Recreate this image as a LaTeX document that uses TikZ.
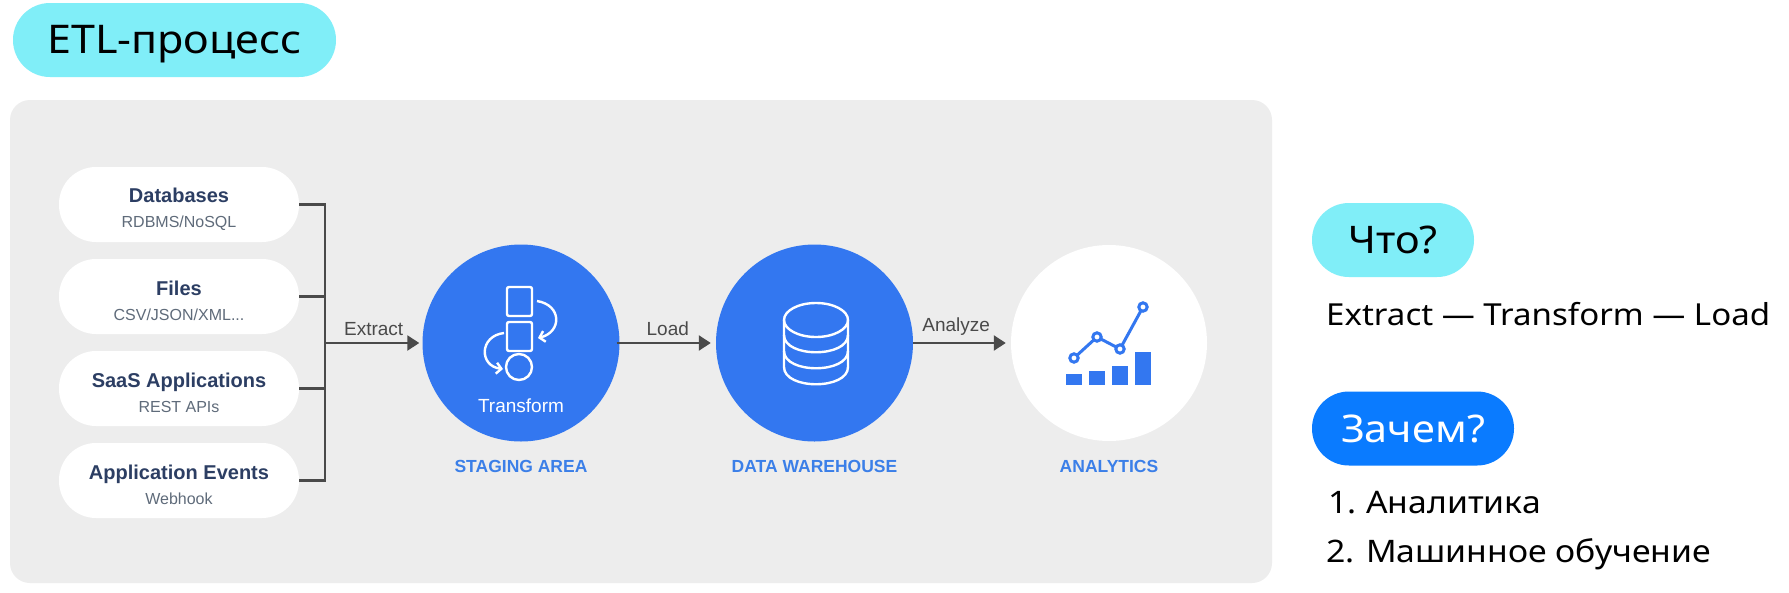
\documentclass[tikz,border=0pt]{standalone}
\usepackage{fontspec}
\setmainfont{Liberation Sans}
\newfontfamily\slidefont[FakeStretch=1.09]{Noto Sans}
\usepackage{xcolor}
\usetikzlibrary{arrows.meta, positioning, calc}
\definecolor{panelgray}{HTML}{EDEDED}
\definecolor{pillcyan}{HTML}{80EEF8}
\definecolor{pillblue}{HTML}{0A7BFF}
\definecolor{circblue}{HTML}{3377F0}
\definecolor{srcnavy}{HTML}{2C3E63}
\definecolor{srcgray}{HTML}{5F6B7A}
\definecolor{stagecol}{HTML}{3B7FE8}
\definecolor{conncol}{HTML}{4A4A4A}

\begin{document}
\begin{tikzpicture}[
  x=1pt, y=-1pt,
  pill/.style={rectangle, fill=pillcyan, rounded corners=36.9pt, minimum height=74pt, inner sep=0pt, text height=27pt, text depth=0pt, font=\slidefont\fontsize{38}{44}\selectfont},
  src/.style={rectangle, fill=white, rounded corners=37pt, minimum width=240pt, minimum height=75pt, inner sep=0pt, align=center, font=\fontsize{20}{25}\selectfont},
  circ/.style={circle, fill=circblue, minimum size=197pt, inner sep=0pt},
  stage/.style={font=\bfseries\fontsize{17.5}{22}\selectfont, text=stagecol},
  conn/.style={line width=2.2pt, draw=conncol},
  flow/.style={conn, -{Triangle[length=12pt, width=15pt]}},
  connlbl/.style={font=\fontsize{19}{22}\selectfont, text=conncol, inner sep=0pt, above=6pt},
  body/.style={font=\slidefont\fontsize{31}{36}\selectfont, text=black, inner sep=0pt},
  icon/.style={line width=2.4pt, draw=white},
  chart/.style={line width=3pt, draw=circblue}
]
  \useasboundingbox (0,0) rectangle (1789,592);
  \fill[white] (0,0) rectangle (1789,592);

  % Title and panel
  \node[pill, minimum width=323pt, font=\slidefont\fontsize{39.5}{44}\selectfont] (title) at (174.5,40) {ETL-процесс};
  \fill[panelgray] (10,100) [rounded corners=20pt] rectangle (1272,583);

  % Sources
  \foreach \i/\ttl/\subt/\ypos in {1/{Databases}/{RDBMS/NoSQL}/204.5, 2/{Files}/{CSV/JSON/XML...}/296.5, 3/{SaaS Applications}/{REST APIs}/388.5, 4/{Application Events}/{Webhook}/480.5} {
    \node[src] (src\i) at (179,\ypos) {\rule{0pt}{24pt}\textbf{\color{srcnavy}\ttl}\\{\color{srcgray}\fontsize{16}{25}\selectfont \subt}};
  }

  % Stages
  \node[circ] (staging) at (521,343) {};
  \node[circ] (warehouse) at (814.5,343) {};
  \node[circ, fill=white, minimum size=196pt] (analytics) at (1109,343) {};
  \node[font=\fontsize{19}{22}\selectfont, text=white] (transform) at (521,406) {Transform};
  \node[stage] (stagingname) at (521,466) {STAGING AREA};
  \node[stage] (warehousename) at (814.5,466) {DATA WAREHOUSE};
  \node[stage] (analyticsname) at (1109,466) {ANALYTICS};

  % Connectors
  \coordinate (bus) at (325,343);
  \foreach \i in {1,...,4} {
    \draw[conn] (src\i.east) -| (bus);
  }
  \draw[flow, shorten >=3pt] (bus) -- node[connlbl] (extract) {Extract} (staging.west);
  \draw[flow, shorten <=-3pt, shorten >=5pt] (staging.east) -- node[connlbl] (load) {Load} (warehouse.west);
  \draw[flow, shorten >=5pt] (warehouse.east) -- node[connlbl, pos=0.44] (analyze) {Analyze} (analytics.west);

  % Transform icon
  \draw[icon, rounded corners=2pt] (507,287) rectangle (532,316);
  \draw[icon, rounded corners=2pt] (507,322) rectangle (532,351);
  \draw[icon] (519,367) circle (13);
  \draw[icon, -{Straight Barb[length=5pt, width=11pt]}] (537,301) .. controls (562,305) and (562,332) .. (538,338);
  \draw[icon, -{Straight Barb[length=5pt, width=11pt]}] (504,333) .. controls (479,336) and (479,366) .. (503,369);

  % Database icon
  \draw[icon] (816,320) ellipse (32 and 17);
  \draw[icon] (784,320) -- (784,367) .. controls (784,390) and (848,390) .. (848,367) -- (848,320);
  \draw[icon] (784,335) .. controls (784,358) and (848,358) .. (848,335);
  \draw[icon] (784,351) .. controls (784,374) and (848,374) .. (848,351);

  % Analytics icon
  \fill[circblue] (1066,374) rectangle (1082,385);
  \fill[circblue] (1089,371) rectangle (1105,385);
  \fill[circblue] (1112,366) rectangle (1128,385);
  \fill[circblue] (1135,352) rectangle (1151,385);
  \draw[chart] (1074,358) -- (1097,337) -- (1120,349) -- (1143,307);
  \foreach \cx/\cy in {1074/358, 1097/337, 1120/349, 1143/307} {
    \draw[chart, fill=white] (\cx,\cy) circle (4.2);
  }

  % Right column
  \node[pill, minimum width=162pt] (what) at (1393,240) {Что?};
  \node[body, anchor=base west, font=\slidefont\fontsize{30.3}{36}\selectfont] (etl) at (1326,325) {Extract — Transform — Load};
  \node[pill, fill=pillblue, text=white, minimum width=202pt] (why) at (1413,428.5) {Зачем?};
  \node[body, anchor=base west] (numa) at (1328,513) {1.};
  \node[body, anchor=base west] (itema) at (1366,513) {Аналитика};
  \node[body, anchor=base west] (numb) at (1326,562) {2.};
  \node[body, anchor=base west] (itemb) at (1366,562) {Машинное обучение};
\end{tikzpicture}
\end{document}
